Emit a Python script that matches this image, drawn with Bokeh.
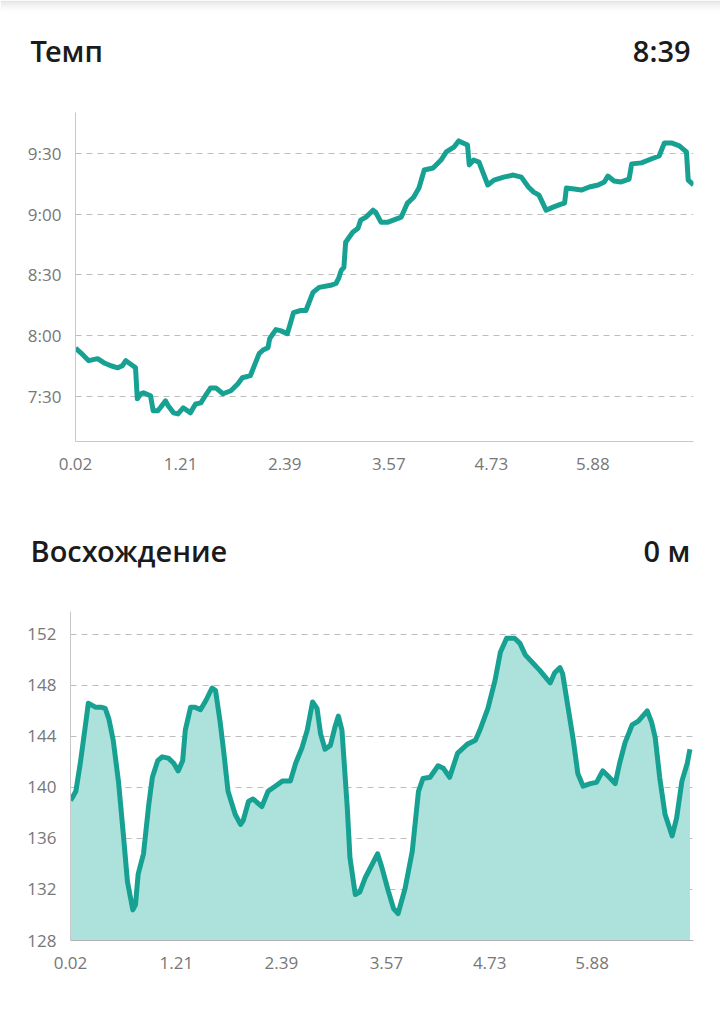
from bokeh.plotting import figure
from bokeh.models import Range1d, FixedTicker, Label, BoxAnnotation
from bokeh.layouts import column, row
from bokeh.embed import file_html
from bokeh.resources import INLINE

# ---------------- data ----------------
x_ticks = [0.02, 1.21, 2.39, 3.57, 4.73, 5.88]

pace_title = "Темп"
pace_value = "8:39"
pace_ticks = [450, 480, 510, 540, 570]
pace_tick_labels = ["7:30", "8:00", "8:30", "9:00", "9:30"]
pace_km = [0.02, 0.08, 0.17, 0.27, 0.34, 0.42, 0.50, 0.55, 0.59, 0.67, 0.70, 0.72,
           0.76, 0.79, 0.87, 0.90, 0.95, 0.98, 1.04, 1.07, 1.13, 1.18, 1.24, 1.29,
           1.32, 1.38, 1.44, 1.49, 1.55, 1.61, 1.69, 1.78, 1.86, 1.91, 2.00, 2.10,
           2.15, 2.20, 2.22, 2.29, 2.34, 2.42, 2.49, 2.57, 2.63, 2.71, 2.78, 2.91,
           2.97, 3.00, 3.03, 3.06, 3.08, 3.16, 3.22, 3.25, 3.31, 3.39, 3.42, 3.48,
           3.56, 3.71, 3.78, 3.85, 3.91, 3.97, 4.07, 4.16, 4.22, 4.31, 4.36, 4.46,
           4.48, 4.53, 4.59, 4.69, 4.76, 4.87, 4.98, 5.07, 5.15, 5.21, 5.27, 5.35,
           5.43, 5.52, 5.56, 5.58, 5.67, 5.75, 5.84, 5.94, 6.01, 6.05, 6.12, 6.20,
           6.29, 6.32, 6.43, 6.54, 6.63, 6.69, 6.77, 6.86, 6.94, 6.96, 7.02]
pace_min = [474.0, 471.7, 467.8, 468.8, 466.8, 465.3, 464.3, 465.3, 467.8, 465.3, 464.3, 449.0,
            451.5, 452.0, 450.5, 443.1, 443.1, 444.6, 448.0, 445.6, 442.1, 441.6, 444.6, 443.1,
            442.1, 446.5, 447.0, 450.5, 454.4, 454.4, 451.5, 453.0, 456.4, 459.4, 460.4, 471.3,
            473.2, 474.2, 478.7, 483.1, 482.6, 481.1, 491.5, 492.5, 492.5, 501.4, 503.9, 504.9,
            505.8, 508.3, 512.3, 513.8, 526.1, 531.0, 533.0, 537.0, 538.5, 541.9, 540.9, 536.0,
            536.0, 538.5, 545.4, 548.3, 552.8, 561.7, 562.7, 566.6, 570.6, 573.1, 576.0, 574.0,
            564.2, 566.6, 565.6, 554.3, 556.7, 558.2, 559.2, 558.2, 553.3, 550.8, 549.3, 541.9,
            543.4, 544.9, 545.4, 552.8, 552.3, 551.8, 553.3, 554.3, 555.8, 558.7, 556.3, 555.8,
            557.2, 564.7, 565.2, 567.1, 568.6, 575.0, 575.0, 573.6, 570.6, 556.7, 554.3]

elev_title = "Восхождение"
elev_value = "0 м"
elev_ticks = [128, 132, 136, 140, 144, 148, 152]
elev_km = [0.02, 0.04, 0.08, 0.13, 0.19, 0.22, 0.30, 0.36, 0.41, 0.45, 0.50, 0.56, 0.61,
           0.66, 0.72, 0.75, 0.78, 0.84, 0.90, 0.94, 1.00, 1.05, 1.12, 1.18, 1.23,
           1.28, 1.31, 1.37, 1.42, 1.48, 1.54, 1.61, 1.65, 1.70, 1.74, 1.79, 1.87,
           1.93, 1.96, 2.02, 2.07, 2.17, 2.24, 2.32, 2.40, 2.49, 2.55, 2.62, 2.68,
           2.74, 2.79, 2.83, 2.88, 2.94, 2.99, 3.03, 3.07, 3.13, 3.16, 3.22, 3.27,
           3.33, 3.47, 3.52, 3.59, 3.65, 3.70, 3.78, 3.86, 3.93, 3.98, 4.06, 4.15,
           4.21, 4.28, 4.37, 4.48, 4.57, 4.62, 4.71, 4.79, 4.85, 4.92, 5.01, 5.07,
           5.13, 5.21, 5.29, 5.41, 5.46, 5.52, 5.55, 5.61, 5.67, 5.72, 5.78, 5.86,
           5.93, 6.00, 6.06, 6.14, 6.19, 6.25, 6.33, 6.40, 6.50, 6.55, 6.59, 6.64,
           6.70, 6.78, 6.83, 6.89, 6.95, 6.98]
elev_m = [139.0, 139.2, 139.7, 141.9, 145.0, 146.6, 146.3, 146.3, 146.2, 145.4, 143.7, 140.4, 136.6,
          132.6, 130.4, 130.8, 133.2, 134.8, 138.7, 140.8, 142.1, 142.4, 142.3, 141.9, 141.3,
          142.1, 144.5, 146.3, 146.3, 146.1, 146.8, 147.8, 147.6, 145.2, 142.9, 139.7, 137.9,
          137.1, 137.4, 138.9, 139.1, 138.5, 139.7, 140.1, 140.5, 140.5, 141.9, 143.1, 144.5,
          146.7, 146.2, 144.2, 143.0, 143.3, 144.7, 145.6, 144.5, 138.4, 134.5, 131.6, 131.8,
          132.9, 134.8, 133.7, 131.9, 130.5, 130.1, 132.1, 135.0, 139.7, 140.7, 140.8, 141.7,
          141.5, 140.8, 142.7, 143.4, 143.7, 144.5, 146.2, 148.4, 150.6, 151.7, 151.7, 151.3,
          150.4, 149.8, 149.2, 148.2, 149.0, 149.4, 148.9, 146.3, 143.7, 141.1, 140.1, 140.3,
          140.4, 141.3, 140.9, 140.3, 141.9, 143.5, 144.9, 145.2, 146.0, 145.1, 143.9, 140.8,
          137.9, 136.2, 137.6, 140.5, 141.9, 143.0]

# ---------------- style ----------------
TEAL = "#17a192"
FILL = "#ade1db"
FONT = "Open Sans"
TITLE_FONT = "'Open Sans SemiBold', 'Open Sans Semibold', 'Open Sans'"
W = 720
X0, X1 = 0.02, 7.02


def header(title, value, h, text_y, shadow=False):
    p = figure(width=W, height=h, x_range=Range1d(0, W), y_range=Range1d(0, h),
               output_backend="svg", toolbar_location=None,
               min_border_left=0, min_border_right=0, min_border_top=0, min_border_bottom=0,
               x_axis_location=None, y_axis_location=None)
    p.grid.visible = False
    p.outline_line_color = None
    if shadow:
        for k, a in enumerate((0.10, 0.07, 0.05, 0.03, 0.015)):
            p.add_layout(BoxAnnotation(top=h - 2 * k, bottom=h - 2 * k - 2, fill_color="#000000",
                                       fill_alpha=a, line_color=None))
    for px, txt, al in ((30, title, "left"), (690, value, "right")):
        p.add_layout(Label(x=px, y=h - text_y, text=txt, text_font=TITLE_FONT, text_font_style="normal",
                           text_font_size="29px", text_align=al, text_baseline="middle",
                           text_color="#1b1b1b"))
    return p


def chart(y0, y1, yticks, ylabels, left, top, frame_h, bottom):
    right = 27
    p = figure(width=W, height=top + frame_h + bottom,
               x_range=Range1d(X0, X1), y_range=Range1d(y0, y1),
               output_backend="svg", toolbar_location=None,
               min_border_left=left, min_border_right=right,
               min_border_top=top, min_border_bottom=bottom)
    p.outline_line_color = None
    p.xgrid.visible = False
    p.ygrid.ticker = FixedTicker(ticks=yticks)
    p.ygrid.grid_line_color = "#bdbdbd"
    p.ygrid.grid_line_dash = "6 5"
    p.xaxis.ticker = FixedTicker(ticks=x_ticks)
    p.yaxis.ticker = FixedTicker(ticks=yticks)
    if ylabels is not None:
        p.yaxis.major_label_overrides = {t: l for t, l in zip(yticks, ylabels)}
    for ax in (p.xaxis, p.yaxis):
        ax.major_tick_line_color = None
        ax.minor_tick_line_color = None
        ax.axis_line_color = "#c8c8c8"
        ax.major_label_text_font = FONT
        ax.major_label_text_font_size = "17px"
        ax.major_label_text_color = "#777777"
    p.yaxis.major_label_standoff = 8
    p.xaxis.major_label_standoff = 10
    return p


h1 = header(pace_title, pace_value, 90, 50, shadow=True)

c1 = chart(428, 590, pace_ticks, pace_tick_labels, left=75, top=22, frame_h=329, bottom=39)
c1.line(pace_km, pace_min, line_width=5, line_color=TEAL, line_join="round")

h2 = header(elev_title, elev_value, 120, 70)

c2 = chart(128, 153.8, elev_ticks, None, left=70, top=11, frame_h=329, bottom=40)
c2.varea(x=elev_km, y1=[elev_ticks[0]] * len(elev_km), y2=elev_m, fill_color=FILL)
c2.line(elev_km, elev_m, line_width=5, line_color=TEAL, line_join="round")
c2.xaxis.axis_line_color = "#b0b0b0"

layout = column(row(h1), row(c1), row(h2), row(c2), spacing=0)

open("out.html", "w").write(file_html(layout, INLINE))
